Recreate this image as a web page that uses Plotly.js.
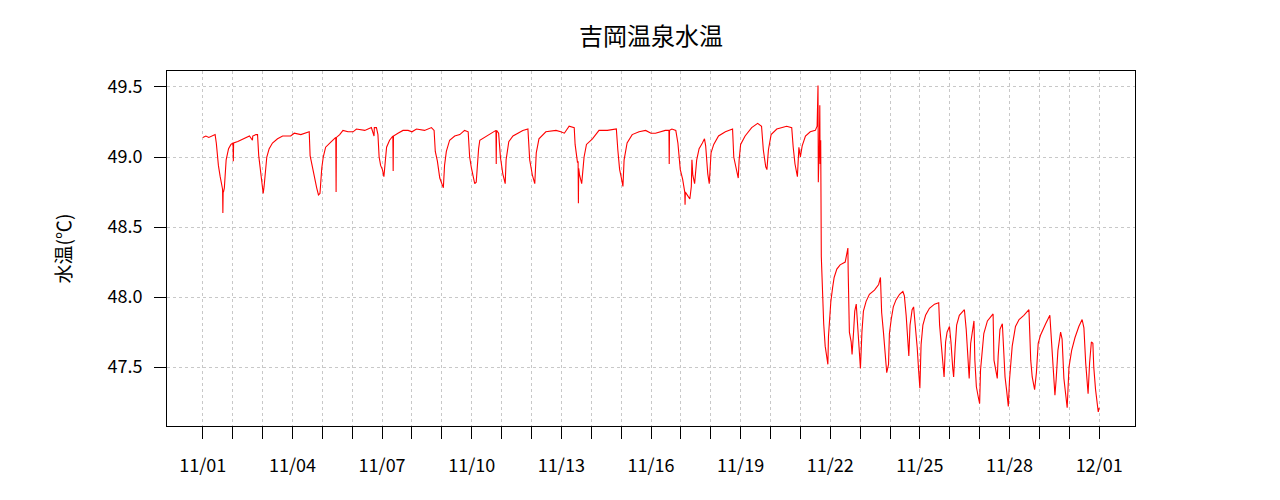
<!DOCTYPE html>
<html>
<head>
<meta charset="utf-8">
<script src="https://cdn.plot.ly/plotly-3.0.1.min.js"></script>
<style>html,body{margin:0;padding:0;background:#fff;}#chart{width:1280px;height:500px;}</style>
</head>
<body>
<div id="chart"></div>
<script>
// Days elapsed since 11/01 00:00
const dayOffset = [
0.00,0.10,0.20,0.30,0.41,0.45,0.48,0.52,0.58,0.63,0.66,0.67,0.68,0.69,0.72,0.74,0.78,0.86,0.94,1.01,
1.02,1.03,1.17,1.39,1.56,1.66,1.67,1.78,1.83,1.87,1.92,1.98,2.02,2.05,2.09,2.14,2.22,2.33,2.50,2.67,
2.94,3.06,3.28,3.45,3.56,3.59,3.67,3.72,3.81,3.87,3.92,3.98,4.03,4.11,4.19,4.30,4.45,4.46,4.47,4.58,
4.69,4.86,5.03,5.14,5.42,5.64,5.73,5.74,5.81,5.86,5.90,5.95,6.01,6.06,6.11,6.15,6.25,6.36,6.37,6.38,
6.53,6.70,6.87,7.00,7.15,7.42,7.65,7.74,7.78,7.85,7.93,8.00,8.05,8.09,8.15,8.26,8.43,8.60,8.76,8.88,
8.93,8.99,9.04,9.10,9.15,9.19,9.23,9.27,9.50,9.71,9.81,9.82,9.83,9.90,9.96,10.04,10.12,10.15,10.24,10.38,
10.55,10.71,10.88,10.94,11.03,11.11,11.16,11.25,11.48,11.82,11.98,12.10,12.26,12.43,12.46,12.54,12.56,12.57,12.58,12.61,
12.68,12.76,12.84,13.04,13.26,13.54,13.84,13.89,13.95,14.01,14.06,14.10,14.20,14.37,14.60,14.82,15.00,15.15,15.48,15.60,
15.61,15.62,15.70,15.83,15.90,15.98,16.06,16.13,16.14,16.15,16.21,16.30,16.35,16.37,16.40,16.46,16.53,16.61,16.72,16.79,
16.83,16.90,16.95,17.01,17.10,17.26,17.49,17.73,17.77,17.84,17.92,17.95,18.00,18.15,18.37,18.57,18.70,18.76,18.84,18.88,
18.93,19.02,19.21,19.54,19.71,19.76,19.82,19.90,19.95,20.00,20.06,20.17,20.33,20.50,20.56,20.59,20.60,20.62,20.63,20.65,
20.66,20.68,20.70,20.73,20.78,20.83,20.89,20.92,20.94,20.98,21.02,21.08,21.13,21.22,21.33,21.50,21.53,21.59,21.60,21.64,
21.70,21.73,21.78,21.82,21.87,21.90,21.94,21.98,22.01,22.06,22.11,22.20,22.31,22.48,22.62,22.68,22.70,22.72,22.78,22.84,
22.89,22.95,22.98,23.04,23.11,23.20,23.32,23.43,23.48,23.54,23.59,23.63,23.67,23.74,23.79,23.85,23.91,23.96,24.00,24.04,
24.10,24.19,24.32,24.49,24.63,24.66,24.71,24.77,24.81,24.86,24.91,24.99,25.04,25.10,25.13,25.18,25.23,25.32,25.49,25.55,
25.60,25.65,25.70,25.76,25.81,25.84,25.89,25.96,26.00,26.03,26.09,26.14,26.26,26.37,26.45,26.48,26.54,26.59,26.62,26.68,
26.76,26.80,26.85,26.90,26.96,27.00,27.05,27.09,27.20,27.32,27.48,27.65,27.71,27.76,27.84,27.90,27.96,28.04,28.21,28.35,
28.41,28.47,28.52,28.56,28.62,28.71,28.76,28.82,28.88,28.93,28.99,29.08,29.19,29.32,29.43,29.49,29.55,29.60,29.63,29.68,
29.74,29.79,29.82,29.88,29.93,29.97,30.00
];
// Water temperature (°C)
const waterTemp = [
49.14,49.15,49.14,49.15,49.16,49.10,49.01,48.94,48.86,48.79,48.77,48.60,48.76,48.75,48.78,48.86,48.98,49.06,49.09,49.10,
48.97,49.10,49.11,49.13,49.15,49.12,49.15,49.16,49.16,49.01,48.92,48.85,48.74,48.79,48.91,49.00,49.06,49.10,49.13,49.15,
49.15,49.17,49.16,49.17,49.18,49.01,48.92,48.86,48.78,48.73,48.74,48.92,49.00,49.07,49.09,49.11,49.14,48.75,49.14,49.16,
49.19,49.18,49.18,49.20,49.19,49.21,49.15,49.21,49.21,49.16,49.00,48.94,48.91,48.86,48.99,49.07,49.12,49.15,48.90,49.15,
49.17,49.19,49.19,49.18,49.20,49.19,49.21,49.19,49.04,48.97,48.85,48.80,48.78,48.94,49.04,49.12,49.15,49.16,49.19,49.18,
49.00,48.92,48.87,48.81,48.82,48.97,49.06,49.12,49.15,49.18,49.19,48.95,49.19,49.17,49.00,48.88,48.81,48.98,49.11,49.15,
49.17,49.19,49.20,48.98,48.87,48.81,49.03,49.13,49.18,49.19,49.18,49.17,49.22,49.21,49.09,48.96,48.97,48.67,48.92,48.87,
48.81,49.00,49.09,49.13,49.19,49.19,49.20,49.05,48.91,48.85,48.79,48.98,49.10,49.16,49.18,49.19,49.17,49.17,49.19,49.19,
48.95,49.19,49.20,49.19,49.10,48.91,48.84,48.75,48.66,48.75,48.73,48.70,48.79,48.98,48.87,48.81,48.98,49.06,49.10,49.13,
49.08,48.88,48.81,49.03,49.09,49.15,49.18,49.20,49.00,48.93,48.85,48.98,49.09,49.15,49.21,49.24,49.22,49.05,48.93,48.91,
49.05,49.16,49.20,49.22,49.21,49.07,48.95,48.86,49.07,49.00,49.08,49.15,49.18,49.19,49.22,49.51,48.82,49.00,49.00,49.37,
48.95,49.12,48.29,48.05,47.81,47.65,47.55,47.52,47.72,47.86,47.97,48.07,48.14,48.20,48.23,48.25,48.28,48.35,48.18,47.75,
47.68,47.59,47.75,47.90,47.95,47.85,47.68,47.56,47.49,47.75,47.90,47.97,48.02,48.05,48.09,48.14,48.05,47.89,47.75,47.62,
47.46,47.52,47.74,47.84,47.93,47.98,48.02,48.04,48.01,47.87,47.68,47.58,47.80,47.91,47.93,47.80,47.64,47.47,47.35,47.66,
47.80,47.87,47.92,47.95,47.96,47.80,47.66,47.49,47.43,47.68,47.75,47.79,47.68,47.49,47.43,47.64,47.80,47.87,47.91,47.77,
47.55,47.42,47.67,47.75,47.83,47.55,47.36,47.28,47.24,47.48,47.62,47.74,47.83,47.86,47.88,47.55,47.46,47.42,47.58,47.77,
47.81,47.65,47.43,47.34,47.22,47.41,47.53,47.65,47.79,47.84,47.87,47.91,47.55,47.43,47.34,47.46,47.67,47.73,47.81,47.87,
47.67,47.50,47.30,47.41,47.62,47.75,47.70,47.42,47.28,47.21,47.50,47.62,47.71,47.79,47.84,47.78,47.53,47.39,47.31,47.53,
47.68,47.67,47.50,47.34,47.24,47.18,47.21
];
const tickDays = [0,1,2,3,4,5,6,7,8,9,10,11,12,13,14,15,16,17,18,19,20,21,22,23,24,25,26,27,28,29,30];
const tickLabels = ["11/01","","","11/04","","","11/07","","","11/10","","","11/13","","","11/16","","","11/19","","","11/22","","","11/25","","","11/28","","","12/01"];
const yTicks = [47.5, 48.0, 48.5, 49.0, 49.5];
const chartTitle = "吉岡温泉水温";
const yTitle = "水温(℃)";

const FONT = '"Noto Sans CJK JP", "DejaVu Sans", sans-serif';

const trace = {
  x: dayOffset, y: waterTemp, type: 'scatter', mode: 'lines',
  line: {color: '#ff0000', width: 1.1}, hoverinfo: 'skip'
};

const layout = {
  width: 1280, height: 500,
  margin: {l: 167, r: 145, t: 71, b: 74},
  paper_bgcolor: '#ffffff', plot_bgcolor: '#ffffff',
  showlegend: false,
  font: {family: FONT, color: '#000000', size: 18},
  title: {text: chartTitle, x: 0.5, xref: 'paper', y: 0.926, yref: 'container', yanchor: 'middle',
          font: {family: FONT, size: 24, color: '#000', weight: 'normal'}},
  xaxis: {
    range: [-1.2, 31.2], tickmode: 'array', tickvals: tickDays, ticktext: tickLabels,
    ticks: 'outside', ticklen: 12, tickwidth: 1, tickcolor: '#000',
    ticklabelstandoff: 11,
    showline: true, mirror: true, linecolor: '#000', linewidth: 1,
    showgrid: true, gridcolor: '#c8c8c8', gridwidth: 1, griddash: '3px,3px',
    zeroline: false, tickfont: {family: FONT, size: 18, color: '#000'}
  },
  yaxis: {
    range: [47.08, 49.614], tickmode: 'array', tickvals: yTicks, tickformat: '.1f',
    ticks: 'outside', ticklen: 12, tickwidth: 1, tickcolor: '#000',
    ticklabelstandoff: 8,
    showline: true, mirror: true, linecolor: '#000', linewidth: 1,
    showgrid: true, gridcolor: '#c8c8c8', gridwidth: 1, griddash: '3px,3px',
    zeroline: false, tickfont: {family: FONT, size: 18, color: '#000'},
    title: {text: yTitle, standoff: 30, font: {family: FONT, size: 19, color: '#000'}}
  }
};

Plotly.newPlot('chart', [trace], layout, {staticPlot: true, displayModeBar: false});
</script>
</body>
</html>
